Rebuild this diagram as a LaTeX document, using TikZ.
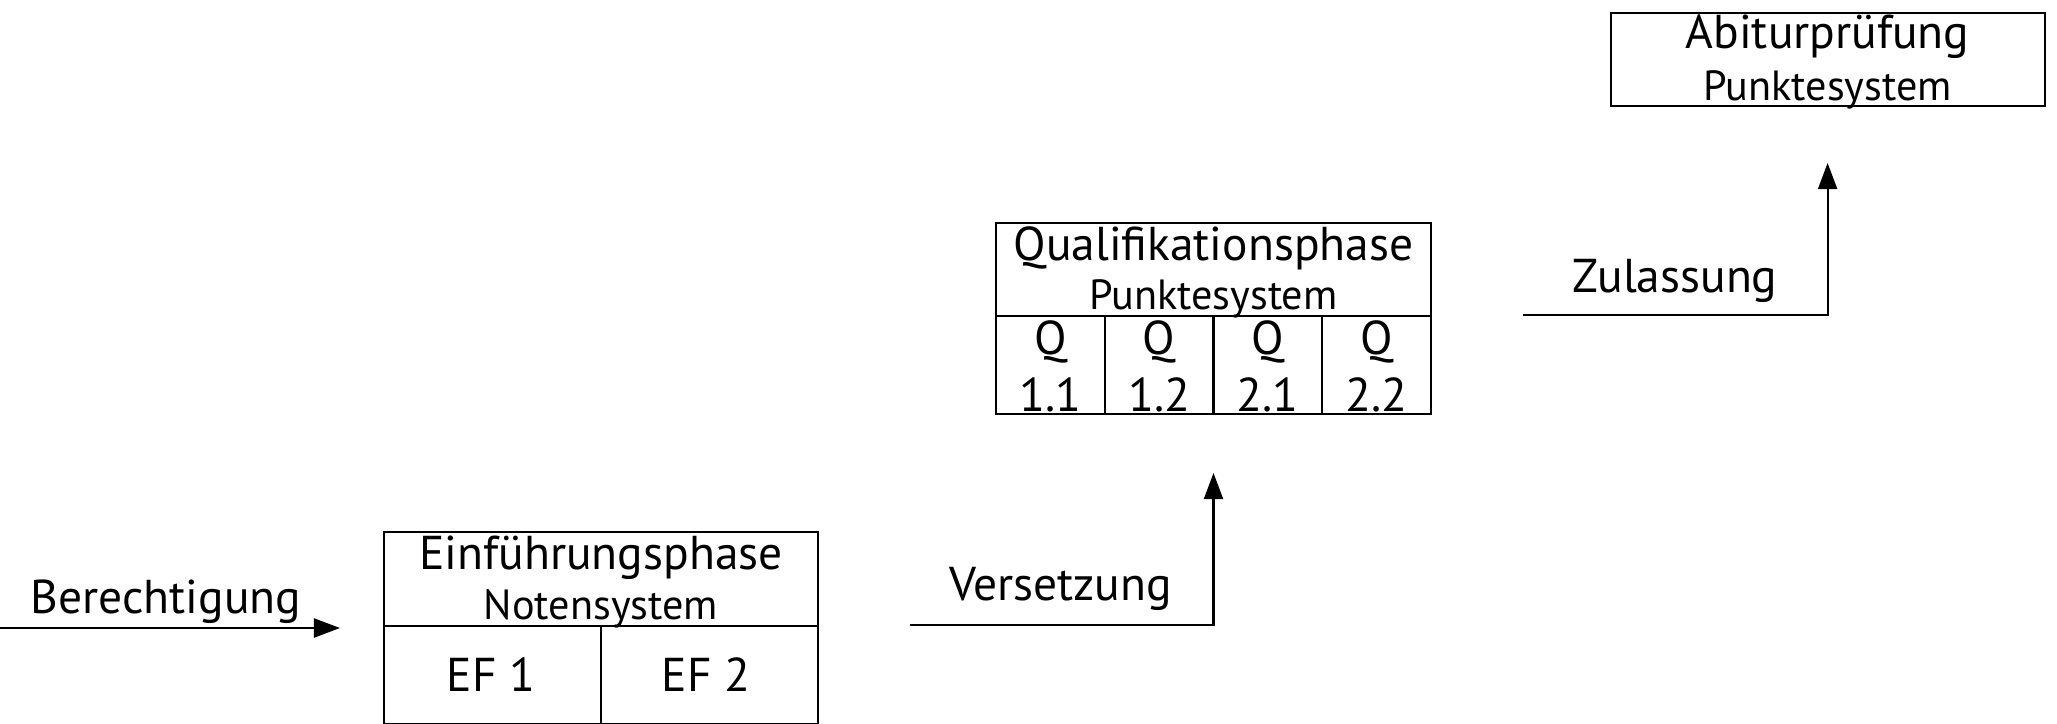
\documentclass[tikz,border=0pt]{standalone}
\usepackage{fontspec}
\setmainfont{PT Sans}
\usetikzlibrary{arrows.meta}

\tikzset{
  phase/.style={draw, line width=0.6pt},
  pfeil/.style={-{Triangle[length=7.4pt,width=5.4pt]}, line width=0.6pt},
  gross/.style={anchor=base, inner sep=0pt, font=\fontsize{13.5}{16}\selectfont},
  klein/.style={anchor=base, inner sep=0pt, font=\fontsize{12}{14}\selectfont},
}

\begin{document}
\begin{tikzpicture}[x=0.01cm, y=-0.01cm]
    \useasboundingbox (0,0) rectangle (2057,723);
    % Einfuehrungsphase
    \draw [phase] (384,532) rectangle (818,724);
    \draw [phase] (384,626) to (818,626);
    \draw [phase] (601,626) to (601,724);
    \node (ef_titel) [gross] at (601,569) {Einführungsphase};
    \node (ef_system) [klein] at (601,619) {Notensystem};
    \node (ef_1) [gross] at (491,691) {EF 1};
    \node (ef_2) [gross] at (706,691) {EF 2};
    % Qualifikationsphase
    \draw [phase] (996,222.7) rectangle (1431,414);
    \draw [phase] (996,316) to (1431,316);
    \foreach \x in {1104.75,1213.5,1322.25}
        \draw [phase] (\x,316) to (\x,414);
    \node (q_titel) [gross] at (1213.5,260) {Qualifikationsphase};
    \node (q_system) [klein] at (1213.5,309.5) {Punktesystem};
    \foreach \x/\nr [count=\i] in {1050.4/1.1,1159.1/1.2,1267.9/2.1,1376.6/2.2} {
        \node (q_buchst\i) [gross] at (\x,354) {Q};
        \node (q_nr\i) [gross] at (\x,411) {\nr};
    }
    % Abiturpruefung
    \draw [phase] (1610.7,12.7) rectangle (2044.6,106);
    \node (abi_titel) [gross] at (1827.6,48.3) {Abiturprüfung};
    \node (abi_system) [klein] at (1827.6,100) {Punktesystem};
    % Uebergaenge
    \coordinate (ber_start) at (0,628);
    \coordinate (ber_end) at (340,628);
    \draw [pfeil] (ber_start) to (ber_end);
    \node (berechtigung) [gross] at (166,613) {Berechtigung};
    \coordinate (vers_start) at (910,625);
    \coordinate (vers_end) at (1213.5,473);
    \draw [pfeil] (vers_start) -| (vers_end);
    \node (versetzung) [gross] at (1060.5,600.7) {Versetzung};
    \coordinate (zul_start) at (1523,315);
    \coordinate (zul_end) at (1827.6,163);
    \draw [pfeil] (zul_start) -| (zul_end);
    \node (zulassung) [gross] at (1675,292) {Zulassung};
\end{tikzpicture}
\end{document}
